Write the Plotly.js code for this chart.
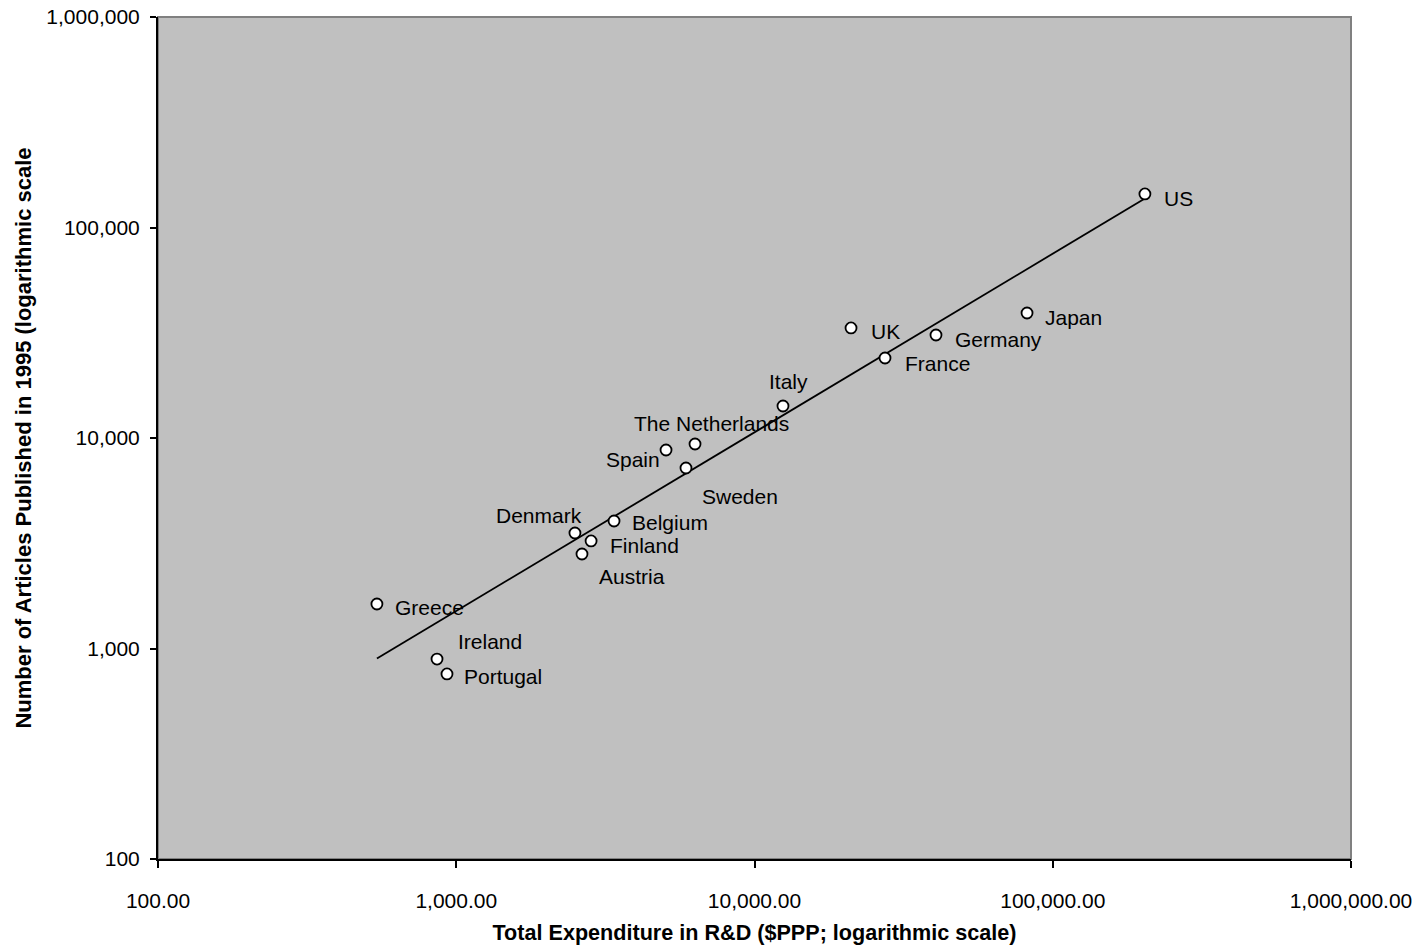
<!DOCTYPE html>
<html>
<head>
<meta charset="utf-8">
<script src="https://cdn.plot.ly/plotly-3.0.1.min.js"></script>
<style>html,body{margin:0;padding:0;background:#fff;}#chart{width:1420px;height:948px;}</style>
</head>
<body>
<div id="chart"></div>
<script>
// Data
const countries = ["US","Japan","Germany","UK","France","Italy","The Netherlands","Spain","Sweden","Belgium","Denmark","Finland","Austria","Greece","Ireland","Portugal"];
const rdExpenditure = [203700, 82000, 40600, 21070, 27390, 12460, 6318, 5051, 5892, 3381, 2500, 2832, 2640, 542, 862, 931];
const articles1995 = [144300, 39250, 30850, 33320, 23990, 14190, 9365, 8770, 7203, 4034, 3537, 3243, 2812, 1627, 891, 757];
const xTickVals = [100, 1000, 10000, 100000, 1000000];
const xTickText = ["100.00", "1,000.00", "10,000.00", "100,000.00", "1,000,000.00"];
const yTickVals = [100, 1000, 10000, 100000, 1000000];
const yTickText = ["100", "1,000", "10,000", "100,000", "1,000,000"];

// Label placement (styling only): [xshift, yshift, xanchor]
const labelPlacement = {
  "US": [17, -5, "left"],
  "Japan": [16, -4, "left"],
  "Germany": [17, -4, "left"],
  "UK": [18, -4, "left"],
  "France": [18, -5, "left"],
  "Italy": [6, 25, "center"],
  "The Netherlands": [16, 21, "center"],
  "Spain": [-4, -9, "right"],
  "Sweden": [14, -29, "left"],
  "Belgium": [16, -2, "left"],
  "Denmark": [9, 18, "right"],
  "Finland": [17, -5, "left"],
  "Austria": [15, -23, "left"],
  "Greece": [16, -3, "left"],
  "Ireland": [19, 18, "left"],
  "Portugal": [15, -3, "left"]
};

// Power trendline (least squares in log-log space)
const lx = rdExpenditure.map(v => Math.log10(v));
const ly = articles1995.map(v => Math.log10(v));
const n = lx.length;
const mx = lx.reduce((a, b) => a + b, 0) / n;
const my = ly.reduce((a, b) => a + b, 0) / n;
let sxy = 0, sxx = 0;
for (let i = 0; i < n; i++) { sxy += (lx[i] - mx) * (ly[i] - my); sxx += (lx[i] - mx) ** 2; }
const slope = sxy / sxx;
const intercept = my - slope * mx;
const xmin = Math.min(...rdExpenditure), xmax = Math.max(...rdExpenditure);
const trendX = [], trendY = [];
for (let k = 0; k <= 40; k++) {
  const lxx = Math.log10(xmin) + (Math.log10(xmax) - Math.log10(xmin)) * k / 40;
  trendX.push(Math.pow(10, lxx));
  trendY.push(Math.pow(10, intercept + slope * lxx));
}

const font = "Liberation Sans, Arial, sans-serif";

const traces = [
  {
    x: trendX, y: trendY, type: "scatter", mode: "lines",
    line: { color: "#000000", width: 1.8 }, hoverinfo: "skip", showlegend: false
  },
  {
    x: rdExpenditure, y: articles1995, text: countries, type: "scatter", mode: "markers",
    marker: { size: 11, color: "#ffffff", line: { color: "#000000", width: 1.8 } },
    showlegend: false
  }
];

const annotations = countries.map((c, i) => ({
  x: Math.log10(rdExpenditure[i]), y: Math.log10(articles1995[i]), xref: "x", yref: "y",
  text: c, showarrow: false,
  xanchor: labelPlacement[c][2], yanchor: "middle",
  xshift: labelPlacement[c][0], yshift: labelPlacement[c][1],
  font: { family: font, size: 21, color: "#000000" }
}));

const layout = {
  width: 1420, height: 948,
  margin: { l: 158, r: 69, t: 17, b: 89, pad: 0 },
  paper_bgcolor: "#ffffff",
  plot_bgcolor: "#c0c0c0",
  showlegend: false,
  xaxis: {
    type: "log", range: [2, 6], tickvals: xTickVals, ticktext: xTickText,
    showgrid: false, zeroline: false, showline: true, linecolor: "#000000", linewidth: 2,
    ticks: "outside", ticklen: 7, tickwidth: 2, tickcolor: "#000000",
    ticklabelstandoff: 15,
    tickfont: { family: font, size: 21, color: "#000000" },
    title: { text: "<b>Total Expenditure in R&D ($PPP; logarithmic scale)</b>", standoff: 14,
             font: { family: font, size: 21.6, color: "#000000" } },
    automargin: false
  },
  yaxis: {
    type: "log", range: [2, 6], tickvals: yTickVals, ticktext: yTickText,
    showgrid: false, zeroline: false, showline: true, linecolor: "#000000", linewidth: 2,
    ticks: "outside", ticklen: 6, tickwidth: 2, tickcolor: "#000000",
    ticklabelstandoff: 6,
    tickfont: { family: font, size: 21, color: "#000000" },
    title: { text: "<b>Number of Articles Published in 1995 (logarithmic scale</b>", standoff: 9,
             font: { family: font, size: 22, color: "#000000" } },
    automargin: false
  },
  shapes: [
    { type: "rect", xref: "paper", yref: "paper", x0: 0, x1: 1, y0: 0, y1: 1,
      line: { color: "#808080", width: 2 }, layer: "below" }
  ],
  annotations: annotations
};

Plotly.newPlot("chart", traces, layout, { displayModeBar: false, staticPlot: true });
</script>
</body>
</html>
